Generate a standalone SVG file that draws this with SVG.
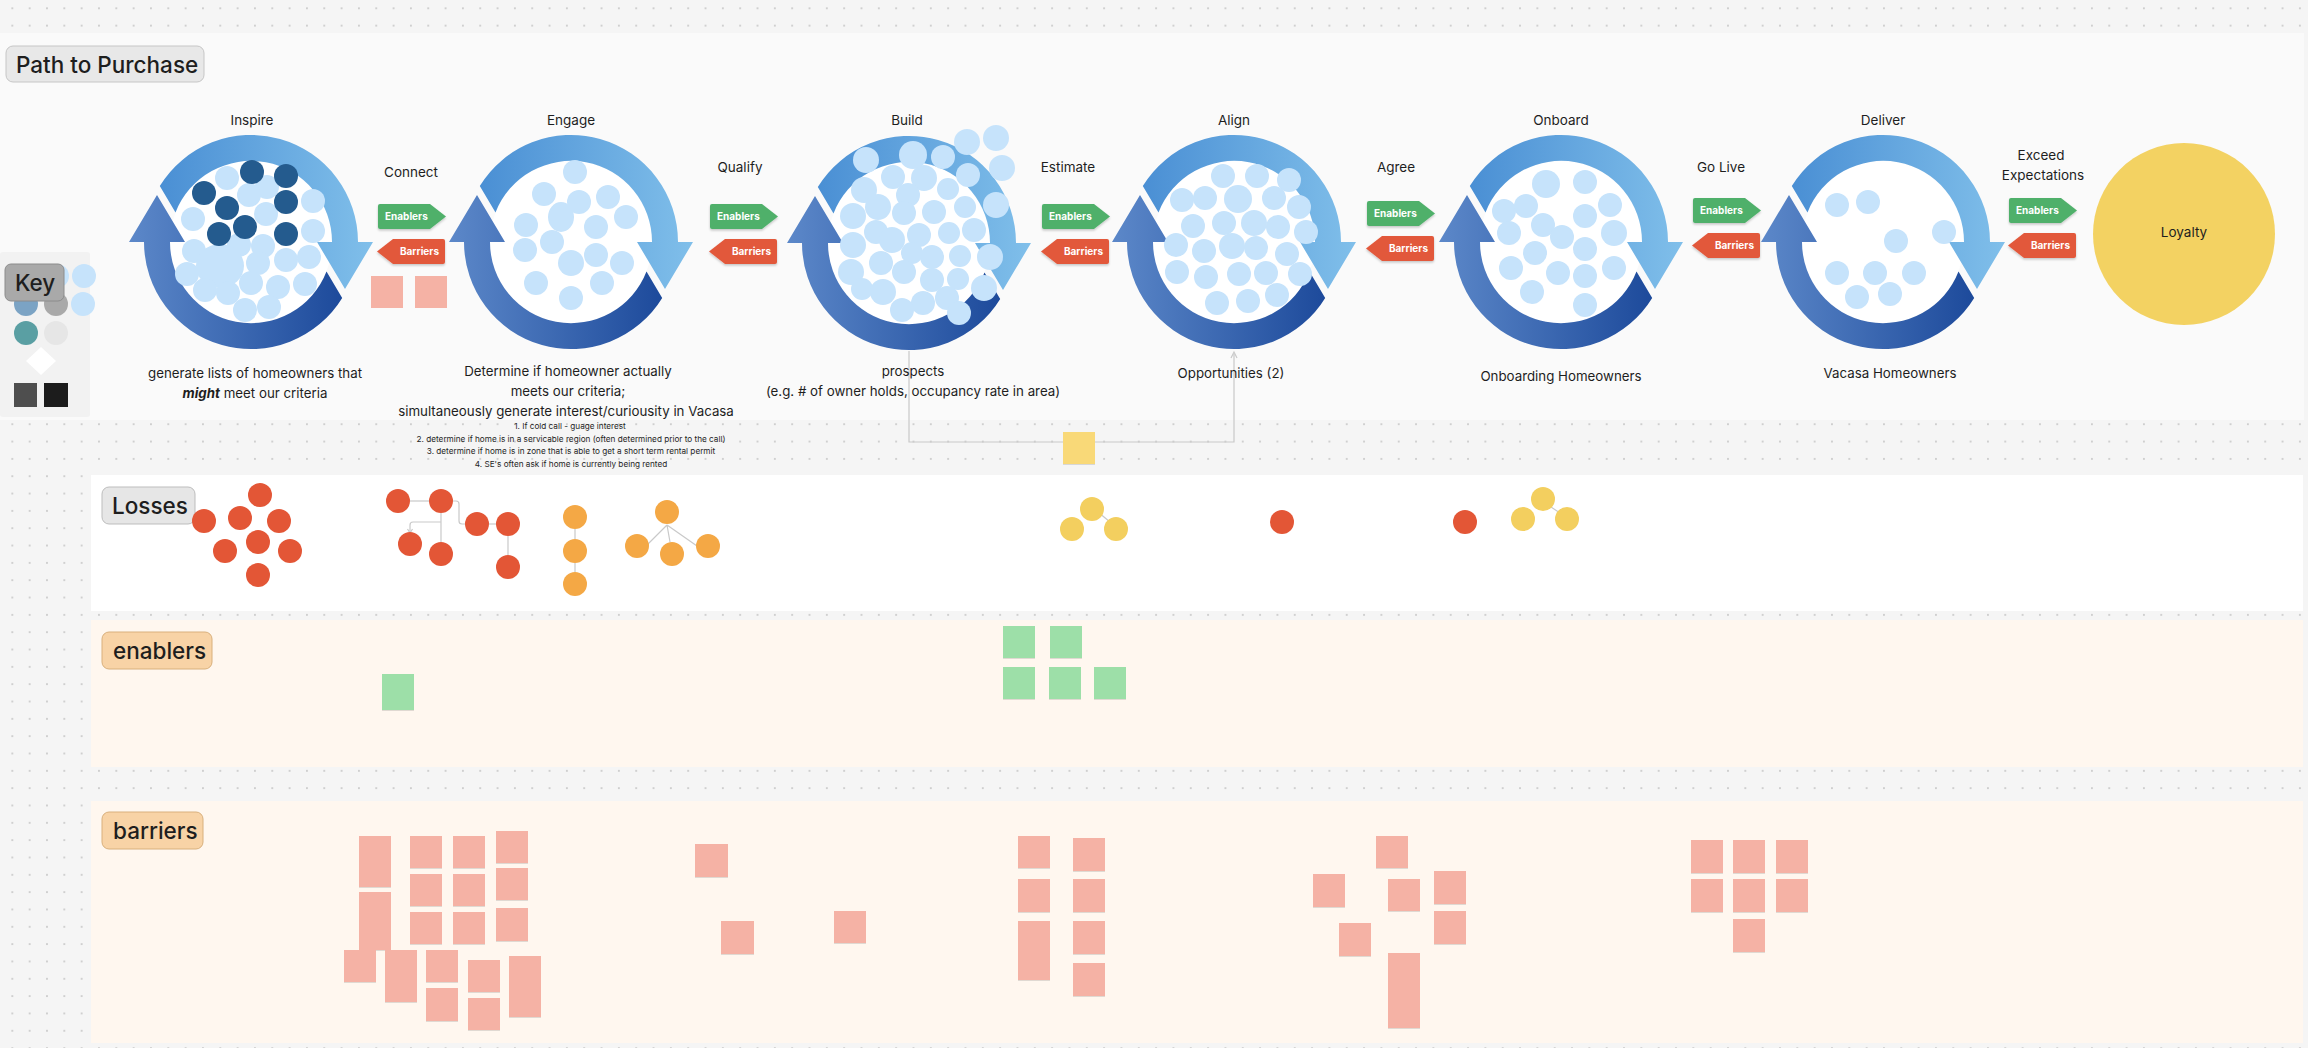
<svg xmlns="http://www.w3.org/2000/svg" xmlns:xlink="http://www.w3.org/1999/xlink" width="2308" height="1048" viewBox="0 0 2308 1048">
<defs>
<style>
text{font-family:Inter,"Liberation Sans",Arial,sans-serif;fill:#1e1e1e}
.lbl{font-size:13.5px;text-anchor:middle}
.desc{font-size:13.3px;text-anchor:middle}
.small{font-size:8.2px;text-anchor:middle}
.sec{font-size:22.5px;font-weight:500}
.tagt{font-size:10px;font-weight:700;fill:#ffffff}
.b{fill:#c6e3fb}
.d{fill:#245b8e}
.loss{fill:#e35636}
.org{fill:#f4a845}
.yel{fill:#f3cf5f}
.pink{fill:#f5b2a5}
.green{fill:#9ddfa8}
.conn{fill:none;stroke:#c9c9c9;stroke-width:1.2}
</style>
<pattern id="dots" x="3.67" y="-0.37" width="17.33" height="17.33" patternUnits="userSpaceOnUse">
<circle cx="8.665" cy="8.665" r="1" fill="#c4c4c4"/>
</pattern>
<linearGradient id="gL" x1="0" y1="0" x2="1" y2="0">
<stop offset="0" stop-color="#4a8fd4"/>
<stop offset="1" stop-color="#80bfea"/>
</linearGradient>
<linearGradient id="gD" x1="0" y1="0" x2="1" y2="0">
<stop offset="0" stop-color="#1d4a9b"/>
<stop offset="1" stop-color="#5c88c9"/>
</linearGradient>
<filter id="sh" x="-10%" y="-10%" width="120%" height="140%">
<feDropShadow dx="0" dy="1.5" stdDeviation="1" flood-color="#000" flood-opacity="0.22"/>
</filter>
<filter id="sh2" x="-10%" y="-10%" width="120%" height="130%">
<feDropShadow dx="0" dy="1" stdDeviation="0.6" flood-color="#000" flood-opacity="0.12"/>
</filter>
<path id="arc" d="M -91.2 -56 A 107 107 0 0 1 107 0 L 122 0 L 94 47 L 66 0 L 81 0 A 81 81 0 0 0 -75.5 -29.5 Z"/>
<path id="en" d="M2 0 H52 L68 12.5 L52 25 H2 Q0 25 0 23 V2 Q0 0 2 0 Z" fill="#4fb06b"/>
<path id="ba" d="M16 0 H66 Q68 0 68 2 V23 Q68 25 66 25 H16 L0 12.5 Z" fill="#e2583a"/>
<g id="cyc">
<circle r="81" fill="#ffffff"/>
<use href="#arc" fill="url(#gL)"/>
<use href="#arc" fill="url(#gD)" transform="rotate(180)"/>
</g>
<rect id="st" width="32" height="32"/>
</defs>

<rect width="2308" height="1048" fill="#f5f5f5"/>
<rect width="2308" height="1048" fill="url(#dots)"/>

<!-- sections -->
<rect x="0" y="33" width="2304" height="387" fill="#fafafa"/>
<rect x="91" y="475" width="2212" height="136" fill="#ffffff"/>
<rect x="91" y="620" width="2212" height="147" fill="#fff7ef"/>
<rect x="91" y="801" width="2212" height="242" fill="#fff7ef"/>

<g id="title">
<rect x="6" y="46" width="198" height="36" rx="7" fill="#e8e8e8" stroke="#c6c6c6"/>
<text x="16" y="72.5" class="sec">Path to Purchase</text>
</g>

<g id="key">
<rect x="0" y="252" width="90" height="165" rx="3" fill="#f2f2f2"/>
<circle cx="57" cy="276" r="12" class="b"/>
<circle cx="84" cy="276" r="12" class="b"/>
<circle cx="26" cy="304" r="12" fill="#7ba3c4"/>
<circle cx="56" cy="304" r="12" fill="#a9a9a9"/>
<circle cx="83" cy="304" r="12" class="b"/>
<circle cx="26" cy="333" r="12" fill="#5a9fa3"/>
<circle cx="56" cy="333" r="12" fill="#e6e6e6"/>
<path d="M41 347 L56 361 L41 375 L26 361 Z" fill="#ffffff"/>
<rect x="14" y="383" width="23" height="24" fill="#4e4e4e"/>
<rect x="44" y="383" width="24" height="24" fill="#1c1c1c"/>
<rect x="5" y="264" width="59" height="37" rx="6" fill="#a9a9a9" stroke="#8c8c8c"/>
<text x="15" y="291" class="sec">Key</text>
</g>

<g id="connectors">
<path class="conn" d="M909 351 V442 H1234 V354"/>
<path d="M1231 358 L1234 352 L1237 358" class="conn"/>
<path class="conn" d="M410 501 H429"/>
<path class="conn" d="M453 501 H456 Q459 501 459 504 V521 Q459 524 462 524 H465"/>
<path class="conn" d="M441 513 V542"/>
<path class="conn" d="M441 522 H413 Q410 522 410 525 V532"/>
<path d="M407.5 529 L410 533 L412.5 529" class="conn"/>
<path class="conn" d="M489 524 H496"/>
<path class="conn" d="M508 536 V555"/>
<path class="conn" d="M575 529 V539 M575 563 V572"/>
<path class="conn" d="M667 525 L646 546 M667 525 L670 542 M667 525 L697 546"/>
<path class="conn" d="M1098 512 L1110 522"/>
<path class="conn" d="M1548 505 L1560 513"/>
</g>

<!-- Inspire -->
<g id="inspire">
<text x="252" y="125" class="lbl">Inspire</text>
<use href="#cyc" x="251" y="242"/>
<circle cx="227" cy="178" r="12" class="b"/>
<circle cx="267" cy="187" r="12" class="b"/>
<circle cx="249" cy="195" r="12" class="b"/>
<circle cx="313" cy="201" r="12" class="b"/>
<circle cx="266" cy="214" r="12" class="b"/>
<circle cx="193" cy="219" r="12" class="b"/>
<circle cx="313" cy="231" r="12" class="b"/>
<circle cx="239" cy="245" r="12" class="b"/>
<circle cx="263" cy="246" r="12" class="b"/>
<circle cx="194" cy="251" r="12" class="b"/>
<circle cx="286" cy="260" r="12" class="b"/>
<circle cx="309" cy="257" r="12" class="b"/>
<circle cx="258" cy="263" r="12" class="b"/>
<circle cx="187" cy="274" r="12" class="b"/>
<ellipse cx="220" cy="266" rx="24" ry="22" class="b"/>
<circle cx="251" cy="283" r="12" class="b"/>
<circle cx="278" cy="287" r="12" class="b"/>
<circle cx="305" cy="284" r="12" class="b"/>
<circle cx="205" cy="290" r="12" class="b"/>
<circle cx="228" cy="293" r="12" class="b"/>
<circle cx="269" cy="307" r="12" class="b"/>
<circle cx="245" cy="310" r="12" class="b"/>
<circle cx="252" cy="172" r="12" class="d"/>
<circle cx="286" cy="176" r="12" class="d"/>
<circle cx="204" cy="193" r="12" class="d"/>
<circle cx="227" cy="208" r="12" class="d"/>
<circle cx="286" cy="202" r="12" class="d"/>
<circle cx="245" cy="227" r="12" class="d"/>
<circle cx="219" cy="234" r="12" class="d"/>
<circle cx="286" cy="234" r="12" class="d"/>
<text x="255" y="378" class="desc">generate lists of homeowners that</text>
<text x="255" y="398" class="desc"><tspan font-weight="700" font-style="italic">might</tspan> meet our criteria</text>
</g>

<g id="connect">
<text x="411" y="177" class="lbl">Connect</text>
<use href="#en" x="378" y="204" filter="url(#sh)"/>
<text x="385" y="220" class="tagt">Enablers</text>
<use href="#ba" x="377" y="239" filter="url(#sh)"/>
<text x="439" y="255" class="tagt" text-anchor="end">Barriers</text>
<use href="#st" x="371" y="276" class="pink"/>
<use href="#st" x="415" y="276" class="pink"/>
</g>

<!-- Engage -->
<g id="engage">
<text x="571" y="125" class="lbl">Engage</text>
<use href="#cyc" x="571" y="242"/>
<circle cx="575" cy="172" r="12" class="b"/>
<circle cx="544" cy="194" r="12" class="b"/>
<circle cx="579" cy="202" r="12" class="b"/>
<circle cx="608" cy="197" r="12" class="b"/>
<circle cx="626" cy="217" r="12" class="b"/>
<ellipse cx="561" cy="217" rx="13" ry="15" class="b"/>
<circle cx="526" cy="225" r="12" class="b"/>
<circle cx="596" cy="227" r="12" class="b"/>
<circle cx="552" cy="242" r="12" class="b"/>
<circle cx="525" cy="250" r="12" class="b"/>
<circle cx="596" cy="255" r="12" class="b"/>
<circle cx="571" cy="263" r="13" class="b"/>
<circle cx="622" cy="263" r="12" class="b"/>
<circle cx="536" cy="283" r="12" class="b"/>
<circle cx="602" cy="283" r="12" class="b"/>
<circle cx="571" cy="298" r="12" class="b"/>
<text x="568" y="376" class="desc">Determine if homeowner actually</text>
<text x="568" y="396" class="desc">meets our criteria;</text>
<text x="566" y="416" class="desc">simultaneously generate interest/curiousity in Vacasa</text>
<text x="570" y="429" class="small">1. If cold call - guage interest</text>
<text x="571" y="441.5" class="small">2. determine if home is in a servicable region (often determined prior to the call)</text>
<text x="571" y="454" class="small">3. determine if home is in zone that is able to get a short term rental permit</text>
<text x="571" y="467" class="small">4. SE's often ask if home is currently being rented</text>
</g>

<g id="qualify">
<text x="740" y="172" class="lbl">Qualify</text>
<use href="#en" x="710" y="204" filter="url(#sh)"/>
<text x="717" y="220" class="tagt">Enablers</text>
<use href="#ba" x="709" y="239" filter="url(#sh)"/>
<text x="771" y="255" class="tagt" text-anchor="end">Barriers</text>
</g>

<!-- Build -->
<g id="build">
<text x="907" y="125" class="lbl">Build</text>
<use href="#cyc" x="909" y="243"/>
<circle cx="866" cy="160" r="13" class="b"/>
<circle cx="913" cy="155" r="14" class="b"/>
<circle cx="943" cy="157" r="12" class="b"/>
<circle cx="967" cy="142" r="13" class="b"/>
<circle cx="996" cy="138" r="13" class="b"/>
<circle cx="1002" cy="168" r="13" class="b"/>
<circle cx="893" cy="177" r="12" class="b"/>
<circle cx="924" cy="178" r="13" class="b"/>
<circle cx="948" cy="189" r="11" class="b"/>
<circle cx="968" cy="175" r="12" class="b"/>
<circle cx="864" cy="190" r="13" class="b"/>
<circle cx="908" cy="195" r="12" class="b"/>
<circle cx="996" cy="205" r="13" class="b"/>
<circle cx="965" cy="207" r="11" class="b"/>
<circle cx="878" cy="207" r="13" class="b"/>
<circle cx="904" cy="213" r="12" class="b"/>
<circle cx="934" cy="212" r="12" class="b"/>
<circle cx="853" cy="216" r="13" class="b"/>
<circle cx="974" cy="230" r="12" class="b"/>
<circle cx="949" cy="233" r="11" class="b"/>
<circle cx="876" cy="232" r="12" class="b"/>
<circle cx="892" cy="240" r="13" class="b"/>
<circle cx="919" cy="235" r="12" class="b"/>
<circle cx="853" cy="245" r="13" class="b"/>
<circle cx="912" cy="253" r="11" class="b"/>
<circle cx="932" cy="257" r="12" class="b"/>
<circle cx="960" cy="256" r="11" class="b"/>
<circle cx="990" cy="257" r="13" class="b"/>
<circle cx="881" cy="263" r="12" class="b"/>
<circle cx="904" cy="272" r="12" class="b"/>
<circle cx="851" cy="272" r="13" class="b"/>
<circle cx="932" cy="280" r="12" class="b"/>
<circle cx="958" cy="279" r="11" class="b"/>
<circle cx="862" cy="289" r="11" class="b"/>
<circle cx="883" cy="292" r="13" class="b"/>
<circle cx="984" cy="288" r="13" class="b"/>
<circle cx="923" cy="303" r="12" class="b"/>
<circle cx="947" cy="298" r="12" class="b"/>
<circle cx="902" cy="310" r="12" class="b"/>
<circle cx="959" cy="313" r="12" class="b"/>
<text x="913" y="376" class="desc">prospects</text>
<text x="913" y="396" class="desc">(e.g. # of owner holds, occupancy rate in area)</text>
</g>

<g id="estimate">
<text x="1068" y="172" class="lbl">Estimate</text>
<use href="#en" x="1042" y="204" filter="url(#sh)"/>
<text x="1049" y="220" class="tagt">Enablers</text>
<use href="#ba" x="1041" y="239" filter="url(#sh)"/>
<text x="1103" y="255" class="tagt" text-anchor="end">Barriers</text>
</g>

<!-- Align -->
<g id="align">
<text x="1234" y="125" class="lbl">Align</text>
<use href="#cyc" x="1234" y="242"/>
<circle cx="1223" cy="176" r="12" class="b"/>
<circle cx="1257" cy="176" r="12" class="b"/>
<circle cx="1289" cy="180" r="12" class="b"/>
<circle cx="1182" cy="200" r="12" class="b"/>
<circle cx="1205" cy="198" r="12" class="b"/>
<circle cx="1238" cy="199" r="14" class="b"/>
<circle cx="1274" cy="198" r="12" class="b"/>
<circle cx="1299" cy="207" r="12" class="b"/>
<circle cx="1193" cy="226" r="12" class="b"/>
<circle cx="1224" cy="223" r="12" class="b"/>
<circle cx="1254" cy="223" r="13" class="b"/>
<circle cx="1278" cy="227" r="12" class="b"/>
<circle cx="1306" cy="232" r="12" class="b"/>
<circle cx="1176" cy="245" r="12" class="b"/>
<circle cx="1204" cy="251" r="12" class="b"/>
<circle cx="1232" cy="246" r="13" class="b"/>
<circle cx="1256" cy="248" r="12" class="b"/>
<circle cx="1287" cy="254" r="12" class="b"/>
<circle cx="1177" cy="272" r="12" class="b"/>
<circle cx="1206" cy="277" r="12" class="b"/>
<circle cx="1239" cy="274" r="12" class="b"/>
<circle cx="1266" cy="273" r="12" class="b"/>
<circle cx="1300" cy="274" r="12" class="b"/>
<circle cx="1217" cy="303" r="12" class="b"/>
<circle cx="1248" cy="301" r="12" class="b"/>
<circle cx="1277" cy="295" r="12" class="b"/>
<text x="1231" y="378" class="desc">Opportunities (2)</text>
</g>

<g id="agree">
<text x="1396" y="172" class="lbl">Agree</text>
<use href="#en" x="1367" y="201" filter="url(#sh)"/>
<text x="1374" y="217" class="tagt">Enablers</text>
<use href="#ba" x="1366" y="236" filter="url(#sh)"/>
<text x="1428" y="252" class="tagt" text-anchor="end">Barriers</text>
</g>

<!-- Onboard -->
<g id="onboard">
<text x="1561" y="125" class="lbl">Onboard</text>
<use href="#cyc" x="1561" y="242"/>
<circle cx="1546" cy="184" r="14" class="b"/>
<circle cx="1585" cy="182" r="12" class="b"/>
<circle cx="1504" cy="211" r="12" class="b"/>
<circle cx="1526" cy="206" r="12" class="b"/>
<circle cx="1610" cy="205" r="12" class="b"/>
<circle cx="1585" cy="216" r="12" class="b"/>
<circle cx="1543" cy="225" r="12" class="b"/>
<circle cx="1509" cy="233" r="12" class="b"/>
<circle cx="1562" cy="237" r="12" class="b"/>
<circle cx="1614" cy="233" r="13" class="b"/>
<circle cx="1535" cy="253" r="12" class="b"/>
<circle cx="1585" cy="249" r="12" class="b"/>
<circle cx="1511" cy="268" r="12" class="b"/>
<circle cx="1558" cy="273" r="12" class="b"/>
<circle cx="1585" cy="276" r="12" class="b"/>
<circle cx="1614" cy="268" r="12" class="b"/>
<circle cx="1532" cy="292" r="12" class="b"/>
<circle cx="1585" cy="305" r="12" class="b"/>
<text x="1561" y="381" class="desc">Onboarding Homeowners</text>
</g>

<g id="golive">
<text x="1721" y="172" class="lbl">Go Live</text>
<use href="#en" x="1693" y="198" filter="url(#sh)"/>
<text x="1700" y="214" class="tagt">Enablers</text>
<use href="#ba" x="1692" y="233" filter="url(#sh)"/>
<text x="1754" y="249" class="tagt" text-anchor="end">Barriers</text>
</g>

<!-- Deliver -->
<g id="deliver">
<text x="1883" y="125" class="lbl">Deliver</text>
<use href="#cyc" x="1883" y="242"/>
<circle cx="1837" cy="205" r="12" class="b"/>
<circle cx="1868" cy="202" r="12" class="b"/>
<circle cx="1944" cy="232" r="12" class="b"/>
<circle cx="1896" cy="241" r="12" class="b"/>
<circle cx="1837" cy="273" r="12" class="b"/>
<circle cx="1875" cy="273" r="12" class="b"/>
<circle cx="1914" cy="273" r="12" class="b"/>
<circle cx="1857" cy="297" r="12" class="b"/>
<circle cx="1890" cy="294" r="12" class="b"/>
<text x="1890" y="378" class="desc">Vacasa Homeowners</text>
</g>

<g id="exceed">
<text x="2041" y="160" class="lbl">Exceed</text>
<text x="2043" y="180" class="lbl">Expectations</text>
<use href="#en" x="2009" y="198" filter="url(#sh)"/>
<text x="2016" y="214" class="tagt">Enablers</text>
<use href="#ba" x="2008" y="233" filter="url(#sh)"/>
<text x="2070" y="249" class="tagt" text-anchor="end">Barriers</text>
</g>

<g id="loyalty">
<circle cx="2184" cy="234" r="91" fill="#f3d262"/>
<text x="2184" y="237" class="lbl" font-size="14.5">Loyalty</text>
</g>

<g id="note">
<use href="#st" x="1063" y="432" fill="#f9d978" filter="url(#sh2)"/>
</g>

<!-- Losses -->
<g id="losses">
<rect x="102" y="487" width="93" height="37" rx="7" fill="#e6e6e6" stroke="#bdbdbd"/>
<text x="112" y="513.5" class="sec">Losses</text>
<circle cx="260" cy="495" r="12" class="loss"/>
<circle cx="204" cy="521" r="12" class="loss"/>
<circle cx="240" cy="518" r="12" class="loss"/>
<circle cx="279" cy="521" r="12" class="loss"/>
<circle cx="258" cy="542" r="12" class="loss"/>
<circle cx="225" cy="551" r="12" class="loss"/>
<circle cx="290" cy="551" r="12" class="loss"/>
<circle cx="258" cy="575" r="12" class="loss"/>
<circle cx="398" cy="501" r="12" class="loss"/>
<circle cx="441" cy="501" r="12" class="loss"/>
<circle cx="477" cy="524" r="12" class="loss"/>
<circle cx="508" cy="524" r="12" class="loss"/>
<circle cx="410" cy="544" r="12" class="loss"/>
<circle cx="441" cy="554" r="12" class="loss"/>
<circle cx="508" cy="567" r="12" class="loss"/>
<circle cx="575" cy="517" r="12" class="org"/>
<circle cx="575" cy="551" r="12" class="org"/>
<circle cx="575" cy="584" r="12" class="org"/>
<circle cx="667" cy="512" r="12" class="org"/>
<circle cx="637" cy="546" r="12" class="org"/>
<circle cx="672" cy="554" r="12" class="org"/>
<circle cx="708" cy="546" r="12" class="org"/>
<circle cx="1092" cy="509" r="12" class="yel"/>
<circle cx="1072" cy="529" r="12" class="yel"/>
<circle cx="1116" cy="529" r="12" class="yel"/>
<circle cx="1282" cy="522" r="12" class="loss"/>
<circle cx="1465" cy="522" r="12" class="loss"/>
<circle cx="1543" cy="499" r="12" class="yel"/>
<circle cx="1523" cy="519" r="12" class="yel"/>
<circle cx="1567" cy="519" r="12" class="yel"/>
</g>

<!-- enablers -->
<g id="enablers">
<rect x="102" y="632" width="110" height="37" rx="7" fill="#f8d3a6" stroke="#d9b07c"/>
<text x="113" y="658.5" class="sec">enablers</text>
<rect x="382" y="674" width="32" height="36" class="green" filter="url(#sh2)"/>
<use href="#st" x="1003" y="626" class="green" filter="url(#sh2)"/>
<use href="#st" x="1050" y="626" class="green" filter="url(#sh2)"/>
<use href="#st" x="1003" y="667" class="green" filter="url(#sh2)"/>
<use href="#st" x="1049" y="667" class="green" filter="url(#sh2)"/>
<use href="#st" x="1094" y="667" class="green" filter="url(#sh2)"/>
</g>

<!-- barriers -->
<g id="barriers">
<rect x="102" y="812" width="101" height="37" rx="7" fill="#f8d3a6" stroke="#d9b07c"/>
<text x="113" y="838.5" class="sec">barriers</text>
<g class="pink" filter="url(#sh2)">
<rect x="359" y="836" width="32" height="51"/>
<rect x="410" y="836" width="32" height="32"/>
<rect x="453" y="836" width="32" height="32"/>
<rect x="496" y="831" width="32" height="32"/>
<rect x="410" y="874" width="32" height="32"/>
<rect x="453" y="874" width="32" height="32"/>
<rect x="496" y="868" width="32" height="32"/>
<rect x="359" y="892" width="32" height="58"/>
<rect x="410" y="912" width="32" height="32"/>
<rect x="453" y="912" width="32" height="32"/>
<rect x="496" y="908" width="32" height="33"/>
<rect x="344" y="950" width="32" height="32"/>
<rect x="385" y="950" width="32" height="52"/>
<rect x="426" y="950" width="32" height="32"/>
<rect x="468" y="960" width="32" height="32"/>
<rect x="509" y="956" width="32" height="61"/>
<rect x="426" y="988" width="32" height="33"/>
<rect x="468" y="998" width="32" height="32"/>
<rect x="695" y="844" width="33" height="33"/>
<rect x="721" y="921" width="33" height="33"/>
<rect x="834" y="911" width="32" height="32"/>
<rect x="1018" y="836" width="32" height="32"/>
<rect x="1073" y="838" width="32" height="33"/>
<rect x="1018" y="879" width="32" height="33"/>
<rect x="1073" y="879" width="32" height="33"/>
<rect x="1018" y="921" width="32" height="59"/>
<rect x="1073" y="921" width="32" height="33"/>
<rect x="1073" y="963" width="32" height="33"/>
<rect x="1313" y="874" width="32" height="33"/>
<rect x="1376" y="836" width="32" height="32"/>
<rect x="1388" y="879" width="32" height="32"/>
<rect x="1434" y="871" width="32" height="33"/>
<rect x="1434" y="911" width="32" height="33"/>
<rect x="1339" y="923" width="32" height="33"/>
<rect x="1388" y="953" width="32" height="75"/>
<rect x="1691" y="840" width="32" height="33"/>
<rect x="1733" y="840" width="32" height="33"/>
<rect x="1776" y="840" width="32" height="33"/>
<rect x="1691" y="879" width="32" height="33"/>
<rect x="1733" y="879" width="32" height="33"/>
<rect x="1776" y="879" width="32" height="33"/>
<rect x="1733" y="919" width="32" height="33"/>
</g>
</g>
</svg>
